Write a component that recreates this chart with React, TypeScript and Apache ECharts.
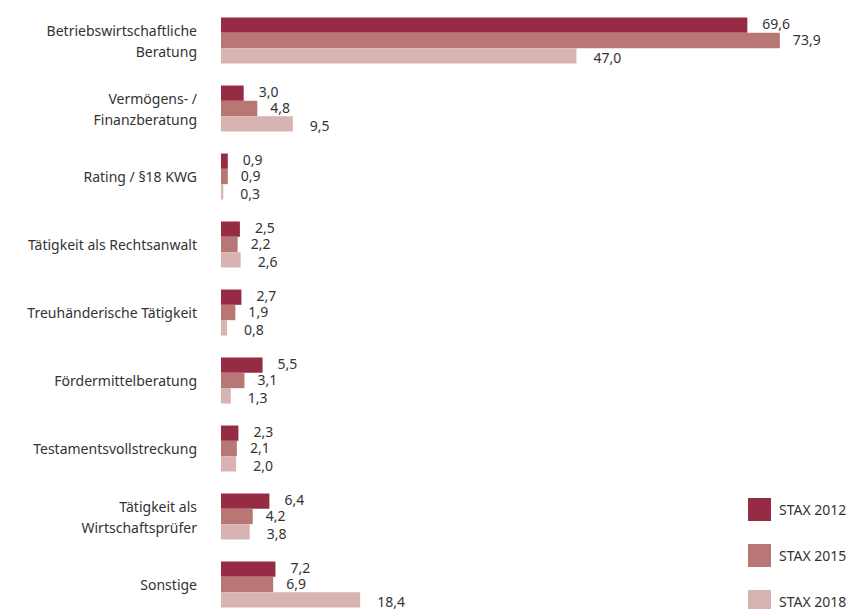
import React, { useEffect, useRef } from "react";
import * as echarts from "echarts";

const categories = [
  "Betriebswirtschaftliche\nBeratung",
  "Vermögens- /\nFinanzberatung",
  "Rating / §18 KWG",
  "Tätigkeit als Rechtsanwalt",
  "Treuhänderische Tätigkeit",
  "Fördermittelberatung",
  "Testamentsvollstreckung",
  "Tätigkeit als\nWirtschaftsprüfer",
  "Sonstige",
];
const seriesNames = ["STAX 2012", "STAX 2015", "STAX 2018"];
const stax2012 = [69.6, 3.0, 0.9, 2.5, 2.7, 5.5, 2.3, 6.4, 7.2];
const stax2015 = [73.9, 4.8, 0.9, 2.2, 1.9, 3.1, 2.1, 4.2, 6.9];
const stax2018 = [47.0, 9.5, 0.3, 2.6, 0.8, 1.3, 2.0, 3.8, 18.4];
const colors = ["#952C44", "#B87775", "#D7B3B1"];

const FONT = "'Noto Sans', 'Open Sans', sans-serif";
const labelDistances = [15, 13, 17];
const labelOffsets = [-2, -1, 2];

export default function App() {
  const ref = useRef<HTMLDivElement>(null);
  useEffect(() => {
    if (!ref.current) return;
    const chart = echarts.init(ref.current, null, { renderer: "svg" });
    const data = [stax2012, stax2015, stax2018];
    chart.setOption({
      animation: false,
      color: colors,
      textStyle: { fontFamily: FONT },
      grid: { left: 221, top: 6.5, width: 605, height: 612 },
      legend: {
        orient: "vertical",
        left: 743,
        top: 493,
        itemWidth: 23,
        itemHeight: 23,
        itemGap: 23,
        icon: "rect",
        data: seriesNames,
        textStyle: { fontSize: 14, color: "#333", fontFamily: FONT, padding: [0, 0, 0, 3] },
      },
      xAxis: {
        type: "value",
        min: 0,
        max: 80,
        show: false,
      },
      yAxis: {
        type: "category",
        data: categories,
        inverse: true,
        axisLine: { show: false },
        axisTick: { show: false },
        axisLabel: {
          margin: 24,
          fontSize: 14,
          color: "#333",
          lineHeight: 21,
          fontFamily: FONT,
        },
      },
      series: seriesNames.map((name, i) => ({
        name,
        type: "bar",
        data: data[i],
        barGap: "0%",
        barCategoryGap: "32.4%",
        label: {
          show: true,
          position: "right",
          distance: labelDistances[i],
          offset: [0, labelOffsets[i]],
          fontSize: 14,
          lineHeight: 15,
          color: "#333",
          fontFamily: FONT,
          formatter: (p: any) => Number(p.value).toFixed(1).replace(".", ","),
        },
      })),
    });
    return () => chart.dispose();
  }, []);
  return (
    <div style={{ position: "absolute", left: 0, top: 0, width: 850, height: 609, overflow: "hidden" }}>
      <div ref={ref} style={{ width: 850, height: 640 }} />
    </div>
  );
}
